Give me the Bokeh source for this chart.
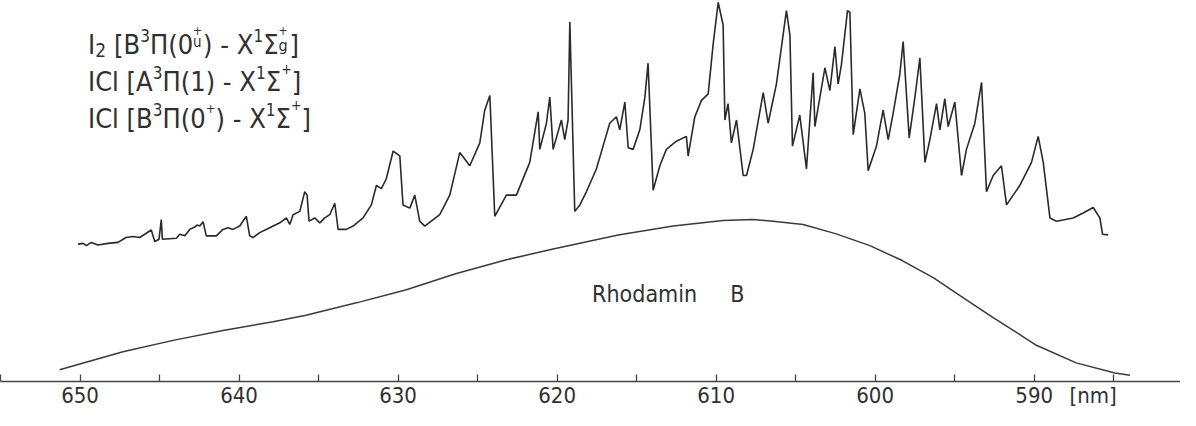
from bokeh.plotting import figure
from bokeh.models import Range1d, FixedTicker, Label, CustomJSTickFormatter
from bokeh.embed import file_html
from bokeh.resources import INLINE

# ---------------- data ----------------
# emission spectrum trace (wavelength nm, intensity arb. units)
spec_nm = [650.13, 649.81, 649.60, 649.29, 648.87, 648.24, 647.61, 647.11, 646.67, 646.25,
           645.93, 645.52, 645.30, 645.03, 644.89, 644.82, 643.94, 643.73, 643.41, 643.10,
           642.79, 642.64, 642.47, 642.26, 642.06, 641.43, 641.01, 640.69, 640.38, 639.96,
           639.54, 639.33, 639.12, 638.70, 638.07, 637.44, 637.02, 636.81, 636.60, 636.18,
           635.87, 635.72, 635.60, 635.24, 634.92, 634.61, 634.30, 633.98, 633.77, 633.25,
           632.83, 632.20, 631.68, 631.36, 631.05, 630.74, 630.31, 629.89, 629.69, 629.26,
           628.95, 628.64, 628.32, 627.38, 626.75, 626.12, 625.49, 624.86, 624.55, 624.23,
           623.92, 623.19, 622.56, 621.72, 621.19, 621.09, 620.67, 620.46, 620.25, 619.73,
           619.52, 619.31, 619.20, 618.89, 618.57, 618.16, 617.53, 617.11, 616.69, 616.27,
           616.06, 615.74, 615.53, 615.22, 614.80, 614.48, 614.28, 613.96, 613.54, 613.13,
           612.50, 611.87, 611.76, 611.34, 610.92, 610.50, 610.19, 609.87, 609.56, 609.45,
           609.25, 609.04, 608.72, 608.30, 608.09, 607.67, 607.04, 606.73, 606.21, 605.58,
           605.36, 605.20, 604.74, 604.32, 603.90, 603.79, 603.16, 602.85, 602.53, 602.33,
           602.12, 601.74, 601.59, 601.38, 600.96, 600.65, 600.44, 599.92, 599.50, 599.18,
           598.87, 598.45, 598.24, 597.86, 597.50, 597.19, 596.87, 596.56, 596.14, 595.93,
           595.62, 595.41, 594.99, 594.57, 594.26, 593.73, 593.31, 593.00, 592.58, 592.06,
           591.74, 590.90, 590.17, 589.75, 589.43, 589.01, 588.60, 587.55, 586.92, 586.29,
           585.87, 585.70, 585.35]
spec_int = [140.3, 141.0, 138.7, 142.0, 139.3, 141.0, 142.0, 147.0, 148.0, 147.0,
            150.3, 154.7, 143.0, 145.3, 165.3, 145.3, 146.3, 150.3, 148.7, 155.3,
            157.7, 159.7, 158.7, 163.0, 148.7, 148.7, 155.3, 157.0, 155.3, 158.7,
            168.7, 148.7, 147.0, 152.0, 157.0, 162.0, 167.0, 160.3, 170.3, 173.7,
            193.7, 190.3, 163.7, 167.0, 162.0, 167.0, 170.3, 182.0, 155.3, 155.3,
            158.7, 167.0, 180.3, 200.3, 197.0, 207.0, 235.3, 230.3, 180.3, 177.0,
            190.3, 163.7, 158.7, 170.3, 190.3, 233.7, 220.3, 243.7, 277.0, 292.0,
            168.7, 190.3, 190.3, 223.7, 275.3, 237.0, 263.7, 290.3, 237.0, 267.0,
            247.0, 267.0, 367.0, 173.7, 180.3, 193.7, 217.0, 240.3, 263.7, 270.3,
            257.0, 285.3, 238.7, 237.0, 257.0, 290.3, 325.0, 195.3, 220.3, 237.0,
            245.3, 250.3, 230.3, 270.3, 287.0, 293.7, 344.0, 387.0, 364.0, 267.0,
            283.7, 243.7, 267.0, 210.3, 210.3, 237.0, 295.0, 263.7, 303.7, 378.7,
            353.7, 240.3, 272.0, 217.0, 315.3, 260.3, 320.3, 297.0, 342.0, 303.7,
            323.7, 378.7, 377.0, 252.0, 298.7, 273.7, 215.3, 240.3, 277.0, 247.0,
            273.7, 313.7, 347.0, 248.7, 290.3, 330.3, 223.7, 247.0, 283.7, 257.0,
            288.7, 260.3, 285.3, 210.3, 237.0, 263.7, 305.3, 193.7, 210.3, 220.3,
            180.3, 200.3, 223.7, 250.3, 223.7, 167.0, 163.7, 167.0, 172.0, 177.7,
            167.0, 150.3, 149.7]

# Rhodamin B pump-dye profile
rhod_nm = [651.28, 647.30, 644.15, 641.01, 637.86, 635.79, 632.62, 629.48, 626.33, 623.19,
           620.25, 616.16, 612.70, 609.56, 607.67, 606.41, 604.53, 602.50, 600.33, 598.30,
           596.35, 594.50, 592.58, 589.86, 587.36, 584.92, 583.98]
rhod_int = [12.0, 30.3, 42.0, 52.0, 61.0, 67.7, 80.3, 93.7, 110.3, 124.3,
            135.3, 149.5, 158.7, 164.3, 165.3, 163.7, 160.3, 151.0, 138.7, 123.5,
            106.0, 86.0, 65.3, 37.0, 19.0, 8.7, 6.3]

# axis ticks and labels
tick_marks = [655, 650, 645, 640, 635, 630, 625, 620, 615, 610, 605, 600, 595, 590, 585]
label_positions = [650, 640, 630, 620, 610, 600, 590, 586.29]
label_texts = ["650", "640", "630", "620", "610", "600", "590", "[nm]"]
dye_label = ["Rhodamin", "B"]

FONT = "DejaVu Sans Condensed"
INK = "#303030"

p = figure(width=1180, height=410, x_range=Range1d(655.0, 580.8), y_range=Range1d(0, 389),
           output_backend="svg", toolbar_location=None, y_axis_location=None,
           min_border_left=0, min_border_right=0, min_border_top=0, min_border_bottom=0,
           background_fill_color="white", border_fill_color="white")
p.outline_line_color = None
p.grid.visible = False

p.line(spec_nm, spec_int, line_color="#2a2a2a", line_width=1.6)
p.line(rhod_nm, rhod_int, line_color="#3a3a3a", line_width=1.5)

ax = p.xaxis[0]
ax.axis_label = None
ax.axis_label_standoff = 0
ax.ticker = FixedTicker(ticks=label_positions, minor_ticks=tick_marks)
ax.formatter = CustomJSTickFormatter(
    args=dict(vals=label_positions, labs=label_texts),
    code="const i = vals.findIndex(v => Math.abs(v - tick) < 1e-6); return i >= 0 ? labs[i] : '';")
ax.axis_line_color = "#444444"
ax.axis_line_width = 1.5
ax.major_tick_in = 0
ax.major_tick_out = 0
ax.major_tick_line_color = None
ax.minor_tick_in = 7
ax.minor_tick_out = 0
ax.minor_tick_line_color = "#444444"
ax.minor_tick_line_width = 1.3
ax.major_label_text_font = FONT
ax.major_label_text_font_size = "22px"
ax.major_label_text_color = INK
ax.major_label_standoff = 1

p.add_layout(Label(x=617.80, y=89, text=dye_label[0], text_font=FONT, text_font_size="23px",
                   text_color=INK, text_baseline="alphabetic"))
p.add_layout(Label(x=609.12, y=89, text=dye_label[1], text_font=FONT, text_font_size="23px",
                   text_color=INK, text_baseline="alphabetic"))

# ---- legend text with super/subscripts ----
EM = {" ": 0.286, "I": 0.266, "C": 0.628, "l": 0.25, "[": 0.352, "]": 0.352, "A": 0.616,
      "B": 0.617, "X": 0.617, "Π": 0.677, "Σ": 0.571, "(": 0.351, ")": 0.351, "-": 0.325,
      "+": 0.754, "u": 0.570, "g": 0.571}
for d in "0123456789":
    EM[d] = 0.572


def runs_label(x, y, runs):
    off = 0.0
    for txt, size, dy, adv in runs:
        if txt.strip():
            p.add_layout(Label(x=x, y=y, x_offset=off, y_offset=dy, text=txt, text_font=FONT,
                               text_font_size=f"{size}px", text_color=INK,
                               text_baseline="alphabetic"))
        if adv is None:
            adv = sum(EM.get(c, 0.6) for c in txt) * size
        off += adv


M = 27
S = 17
runs_label(649.50, 344, [
    ("I", M, 0, None), ("2", 19, -5, None), ("", M, 0, 8), ("[B", M, 0, None),
    ("3", S, 9, None), ("Π(0", M, 0, None), ("+", 12, 14, 0), ("u", 15, 3, 10),
    (") - X", M, 0, None), ("1", S, 9, None), ("Σ", M, 0, None), ("+", 12, 14, 0),
    ("g", 16, -1, 11), ("]", M, 0, None)])
runs_label(649.50, 306, [
    ("ICl [A", M, 0, None), ("3", S, 9, None), ("Π(1) - X", M, 0, None),
    ("1", S, 9, None), ("Σ", M, 0, None), ("+", 14, 13, None), ("]", M, 0, None)])
runs_label(649.50, 269, [
    ("ICl [B", M, 0, None), ("3", S, 9, None), ("Π(0", M, 0, None), ("+", 13, 10, None),
    (") - X", M, 0, None), ("1", S, 9, None), ("Σ", M, 0, None), ("+", 14, 13, None),
    ("]", M, 0, None)])

open("out.html", "w").write(file_html(p, INLINE))
